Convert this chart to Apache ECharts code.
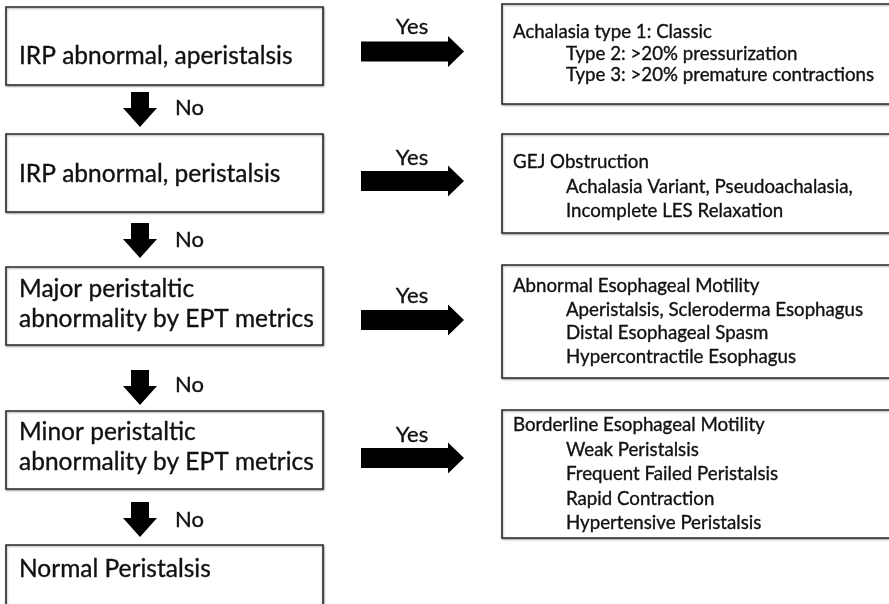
<!DOCTYPE html>
<html><head><meta charset="utf-8">
<script src="https://cdn.jsdelivr.net/npm/echarts@6/dist/echarts.min.js"></script>
<style>html,body{margin:0;padding:0;background:#fff}#chart{width:889px;height:604px}</style>
</head><body><div id="chart"></div>
<script>
// ---------- content ----------
const questions = [
  ['IRP abnormal, aperistalsis'],
  ['IRP abnormal, peristalsis'],
  ['Major peristaltic', 'abnormality by EPT metrics'],
  ['Minor peristaltic', 'abnormality by EPT metrics'],
  ['Normal Peristalsis']
];
const diagnosisTitles = ['Achalasia type 1: Classic', 'GEJ Obstruction', 'Abnormal Esophageal Motility', 'Borderline Esophageal Motility'];
const diagnosisItems = [
  ['Type 2: >20% pressurization', 'Type 3: >20% premature contractions'],
  ['Achalasia Variant, Pseudoachalasia,', 'Incomplete LES Relaxation'],
  ['Aperistalsis, Scleroderma Esophagus', 'Distal Esophageal Spasm', 'Hypercontractile Esophagus'],
  ['Weak Peristalsis', 'Frequent Failed Peristalsis', 'Rapid Contraction', 'Hypertensive Peristalsis']
];
const yesLabels = ['Yes', 'Yes', 'Yes', 'Yes'];
const noLabels = ['No', 'No', 'No', 'No'];

// ---------- layout (diagram units, 1 unit = 1 px) ----------
const LAYOUT = {
  leftX: [6, 323], leftTextX: 19,
  leftBoxY: [[7, 85], [134, 212], [267, 345], [411, 489], [545, 650]],
  leftTextY: [56, 174, 289, 432, 569], leftLineGap: 30,
  rightX: [502, 900], titleX: 513, itemX: 566,
  rightBoxY: [[4, 104], [134, 233], [265, 378], [410, 538]],
  rightTextY: [32, 162, 286, 425], rightLineGap: [21.5, 24.5, 23.7, 24.5],
  yesArrowY: [51.5, 181, 320, 458], yesTextY: [27, 158, 296, 435], yesTextX: 412,
  rArrow: { x0: 361, xh: 448, x1: 464, bodyH: 10, headH: 15.5 },
  downTop: [92, 223, 370, 502], downTip: [127, 258, 405, 537], downX: 140,
  dArrow: { bodyW: 9, headW: 17, headL: 19 },
  noTextX: 175, noTextY: [108, 240, 385, 520]
};
const FONT = 'Lato, "Noto Sans", sans-serif';
const BOX = 'normal 24.5px ' + FONT;
const LABEL = 'normal 22px ' + FONT;
const SMALL = 'normal 18.7px ' + FONT;
const INK = '#111';
const BORDER = '#2b2b2b';

function txt(api, x, y, s, font, align) {
  const p = api.coord([x, y]);
  return { type: 'text', style: { text: s, x: p[0], y: p[1], font: font, fill: INK, stroke: INK, lineWidth: 0.35, align: align || 'left', verticalAlign: 'middle' } };
}
function rect(api, x0, y0, x1, y1) {
  const a = api.coord([x0, y0]), b = api.coord([x1, y1]);
  return { type: 'rect', shape: { x: a[0], y: a[1], width: b[0] - a[0], height: b[1] - a[1] },
    style: { fill: '#fff', stroke: BORDER, lineWidth: 1.6, shadowColor: 'rgba(0,0,0,0.35)', shadowBlur: 2, shadowOffsetX: 0.5, shadowOffsetY: 1 } };
}
function poly(api, pts) {
  return { type: 'polygon', shape: { points: pts.map(p => api.coord(p)) }, style: { fill: '#000' } };
}

const option = {
  animation: false,
  backgroundColor: '#fff',
  grid: { left: 0, right: 0, top: 0, bottom: 0 },
  xAxis: { type: 'value', min: 0, max: 889, show: false },
  yAxis: { type: 'value', min: 0, max: 604, inverse: true, show: false },
  series: [
    { // question boxes
      type: 'custom', data: questions.map((q, i) => [i, 0]),
      renderItem: (params, api) => {
        const i = api.value(0), L = LAYOUT, by = L.leftBoxY[i];
        const ch = [rect(api, L.leftX[0], by[0], L.leftX[1], by[1])];
        questions[i].forEach((line, k) => ch.push(txt(api, L.leftTextX, L.leftTextY[i] + k * L.leftLineGap, line, BOX)));
        return { type: 'group', children: ch };
      }
    },
    { // diagnosis boxes
      type: 'custom', data: diagnosisTitles.map((t, i) => [i, 0]),
      renderItem: (params, api) => {
        const i = api.value(0), L = LAYOUT, by = L.rightBoxY[i];
        const ch = [rect(api, L.rightX[0], by[0], L.rightX[1], by[1])];
        ch.push(txt(api, L.titleX, L.rightTextY[i], diagnosisTitles[i], SMALL));
        diagnosisItems[i].forEach((line, k) => ch.push(txt(api, L.itemX, L.rightTextY[i] + (k + 1) * L.rightLineGap[i], line, SMALL)));
        return { type: 'group', children: ch };
      }
    },
    { // yes arrows
      type: 'custom', data: yesLabels.map((t, i) => [i, 0]),
      renderItem: (params, api) => {
        const i = api.value(0), L = LAYOUT, a = L.rArrow, y = L.yesArrowY[i];
        return { type: 'group', children: [
          poly(api, [[a.x0, y - a.bodyH], [a.xh, y - a.bodyH], [a.xh, y - a.headH], [a.x1, y], [a.xh, y + a.headH], [a.xh, y + a.bodyH], [a.x0, y + a.bodyH]]),
          txt(api, L.yesTextX, L.yesTextY[i], yesLabels[i], LABEL, 'center')
        ] };
      }
    },
    { // no arrows
      type: 'custom', data: noLabels.map((t, i) => [i, 0]),
      renderItem: (params, api) => {
        const i = api.value(0), L = LAYOUT, d = L.dArrow, x = L.downX, t = L.downTop[i], e = L.downTip[i], h = e - d.headL;
        return { type: 'group', children: [
          poly(api, [[x - d.bodyW, t], [x + d.bodyW, t], [x + d.bodyW, h], [x + d.headW, h], [x, e], [x - d.headW, h], [x - d.bodyW, h]]),
          txt(api, L.noTextX, L.noTextY[i], noLabels[i], LABEL)
        ] };
      }
    }
  ]
};
const chart = echarts.init(document.getElementById('chart'), null, { renderer: 'canvas' });
chart.setOption(option);
</script></body></html>
